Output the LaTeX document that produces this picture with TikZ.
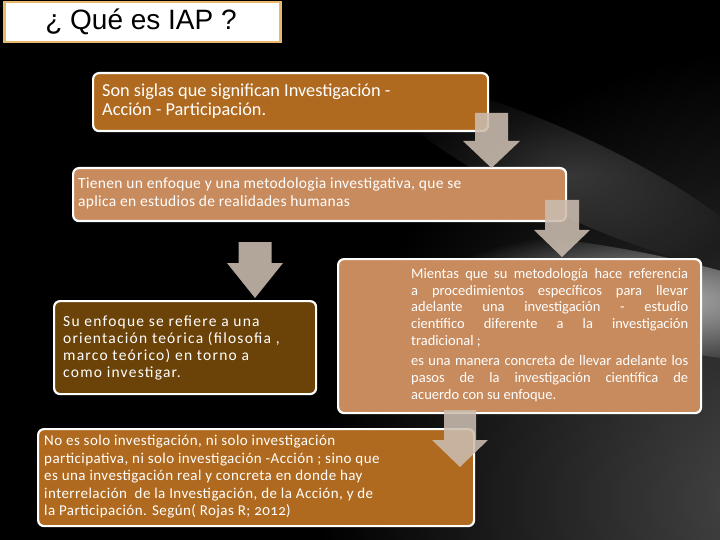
\documentclass[tikz,border=0pt]{standalone}
\usepackage{fontspec}
\setmainfont{Carlito}
\newfontfamily\titlefont{Liberation Sans}
\definecolor{boxA}{HTML}{B06A20}
\definecolor{boxB}{HTML}{C88B5E}
\definecolor{boxC}{HTML}{6B4309}
\definecolor{titleborder}{HTML}{E8B86C}
\definecolor{arrowfill}{HTML}{CBBCAF}
\newcommand\blockarrow[6]{% cx, top, headstart, tip, shaft half, head half
  \fill[arrowfill, opacity=0.88] (#1-#5,#2) -- (#1+#5,#2) -- (#1+#5,#3) -- (#1+#6,#3)
    -- (#1,#4) -- (#1-#6,#3) -- (#1-#5,#3) -- cycle;}
\begin{document}
\begin{tikzpicture}[x=1pt,y=-1pt,
  box/.style={draw=white, line width=2.2pt, rounded corners=6pt, anchor=north west, inner sep=0pt},
  txt/.style={anchor=west, inner sep=0pt, text=white, align=left}]
\useasboundingbox (0,0) rectangle (720,540);
\fill[black] (0,0) rectangle (720,540);
\begin{scope}
\clip (0,0) rectangle (720,540);
\shade[blend mode=screen, inner color=gray!55!black, outer color=black] (770,500) circle (450pt);
\shade[blend mode=screen, inner color=gray!65, outer color=black, rotate around={-12:(650,300)}] (650,300) ellipse (230pt and 45pt);
\shade[blend mode=screen, inner color=gray!35!black, outer color=black, rotate around={-25:(570,175)}] (570,175) ellipse (200pt and 40pt);
\end{scope}
% title
\node[draw=titleborder, line width=2.5pt, fill=white, anchor=north west, minimum width=276pt, minimum height=40pt, inner sep=0pt] (title) at (3,1) {};
\node[font=\titlefont\fontsize{28}{32}\selectfont, text=black] (titletext) at (141,22) {¿ Qué es IAP ?};
% boxes
\node[box, fill=boxA, minimum width=395pt, minimum height=58pt] (b1) at (92,72) {};
\node[txt, font=\fontsize{18.3}{19}\selectfont] (t1) at (102,101) {Son siglas que significan Investigación -\\Acción - Participación.};
\node[box, fill=boxB, minimum width=493pt, minimum height=53pt] (b2) at (72,167) {};
\node[txt, font=\fontsize{15.5}{18}\selectfont\addfontfeatures{LetterSpace=2}] (t2) at (78,193) {Tienen un enfoque y una metodologia investigativa, que se\\aplica en estudios de realidades humanas};
\node[box, fill=boxC, minimum width=262pt, minimum height=93pt] (b3) at (53,300) {};
\node[txt, font=\fontsize{15.5}{17}\selectfont\addfontfeatures{LetterSpace=8}] (t3) at (63,348) {Su enfoque se refiere a una\\orientación teórica (filosofia ,\\marco teórico) en torno a\\como investigar.};
\node[box, fill=boxB, minimum width=363pt, minimum height=154pt] (b4) at (337,258) {};
\node[txt, font=\fontsize{14.5}{16.7}\selectfont, text width=277pt, align=justify] (t4) at (411,335) {Mientas que su metodología hace referencia\linebreak a procedimientos específicos para llevar\linebreak adelante una investigación - estudio\linebreak científico diferente a la investigación\linebreak tradicional ;\par\vspace{4pt}es una manera concreta de llevar adelante los\linebreak pasos de la investigación científica de\linebreak acuerdo con su enfoque.};
\node[box, fill=boxA, minimum width=436pt, minimum height=97pt] (b5) at (37,428) {};
\node[txt, font=\fontsize{15}{17.5}\selectfont\addfontfeatures{LetterSpace=3}] (t5) at (44,477) {No es solo investigación, ni solo investigación\\participativa, ni solo investigación -Acción ; sino que\\es una investigación real y concreta en donde hay\\interrelación \ de la Investigación, de la Acción, y de\\la Participación. Según( Rojas R; {\addfontfeatures{Numbers=OldStyle}2012})};
% arrows
\blockarrow{491.5}{113}{141}{168}{16.5}{28.5}
\blockarrow{562}{200}{230}{257}{17}{28}
\blockarrow{255}{242}{263}{298}{16.5}{28}
\blockarrow{460}{410}{440}{467}{16}{28}
\end{tikzpicture}
\end{document}
